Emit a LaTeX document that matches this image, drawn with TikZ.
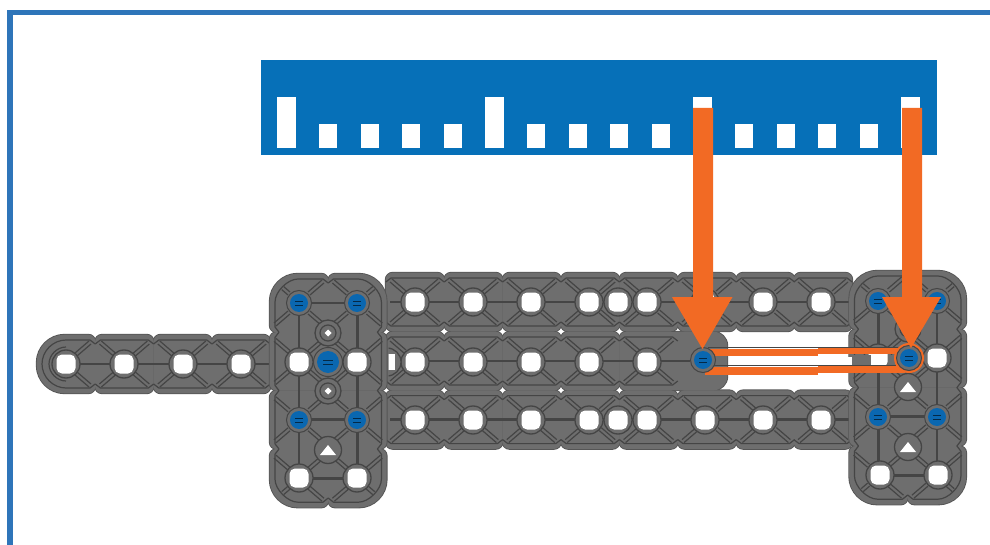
\documentclass[tikz,border=0pt]{standalone}
\definecolor{frameblue}{HTML}{2E75B9}
\definecolor{rulerblue}{HTML}{0670B8}
\definecolor{platefill}{HTML}{6E6E6E}
\definecolor{platedark}{HTML}{454545}
\definecolor{platerim}{HTML}{555555}
\definecolor{screwblue}{HTML}{0A67B0}
\definecolor{linkorange}{HTML}{F26A24}
\tikzset{
  innerline/.style={draw=platedark,line width=1.2pt,line join=round},
  strutline/.style={draw=platedark,line width=2.8pt},
  ringline/.style={draw=platedark,line width=1.3pt,fill=platefill},
  rulerbar/.style={fill=white},
  arrowfill/.style={fill=linkorange},
}
% tile silhouette: radii NW NE SE SW
\newcommand{\tilepath}[4]{
  (-29.3+#1,-29.3) -- (29.3-#2,-29.3) .. controls (29.3-.45*#2,-29.3) and (29.3,-29.3+.45*#2) .. (29.3,-29.3+#2)
  -- (29.3,29.3-#3) .. controls (29.3,29.3-.45*#3) and (29.3-.45*#3,29.3) .. (29.3-#3,29.3)
  -- (-29.3+#4,29.3) .. controls (-29.3+.45*#4,29.3) and (-29.3,29.3-.45*#4) .. (-29.3,29.3-#4)
  -- (-29.3,-29.3+#1) .. controls (-29.3,-29.3+.45*#1) and (-29.3+.45*#1,-29.3) .. (-29.3+#1,-29.3) -- cycle}
\newcommand{\tilerim}[6]{\fill[platerim,draw=platerim,line width=1.8pt,shift={(#1,#2)}] \tilepath{#3}{#4}{#5}{#6};}
\newcommand{\tilefill}[6]{\fill[platefill,shift={(#1,#2)}] \tilepath{#3}{#4}{#5}{#6};}
% diagonals, one factor per quadrant NW NE SE SW
\newcommand{\diag}[6]{
  \begin{scope}[shift={(#1,#2)}]
    \draw[innerline]
      (-9,-11)--(-9-14*#3,-11-12*#3) (-11,-8)--(-11-14*#3,-8-12*#3)
      (9,-11)--(9+14*#4,-11-12*#4) (11,-8)--(11+14*#4,-8-12*#4)
      (9,11)--(9+14*#5,11+12*#5) (11,8)--(11+14*#5,8+12*#5)
      (-9,11)--(-9-14*#6,11+12*#6) (-11,8)--(-11-14*#6,8+12*#6);
  \end{scope}}
\newcommand{\edgetop}[2]{\draw[innerline,shift={(#1,#2)}] (-29.2,-20)--(-24,-24)--(24,-24)--(29.2,-20);}
\newcommand{\edgebot}[2]{\draw[innerline,shift={(#1,#2)}] (-29.2,20)--(-24,24)--(24,24)--(29.2,20);}
\newcommand{\openhole}[2]{
  \draw[ringline] (#1,#2) circle (14);
  \fill[white,rounded corners=5.5pt] (#1-9.5,#2-9.5) rectangle (#1+9.5,#2+9.5);}
\newcommand{\smallhole}[2]{
  \draw[ringline] (#1,#2) circle (13);
  \draw[innerline] (#1,#2) circle (8);
  \fill[white] (#1-3.5,#2) -- (#1,#2-3.5) -- (#1+3.5,#2) -- (#1,#2+3.5) -- cycle;}
\newcommand{\caphole}[2]{
  \draw[ringline] (#1,#2) circle (13.5);
  \fill[white] (#1-8,#2+5) -- (#1,#2-5) -- (#1+8,#2+5) -- cycle;}
\newcommand{\bluescrew}[3]{
  \draw[platedark,line width=1pt,fill=platefill] (#1,#2) circle (#3+3.5);
  \fill[screwblue] (#1,#2) circle (#3);
  \draw[black!60!screwblue,line width=.8pt] (#1-#3*.45,#2-2) -- (#1+#3*.45,#2-2) (#1-#3*.45,#2+2) -- (#1+#3*.45,#2+2);}
% inner outline of a 2 x 4 plate, origin at its top-left hole
\newcommand{\plateinner}[2]{
  \draw[innerline,shift={(#1,#2)}]
   (29.2,-20) -- (24,-24) -- (-1,-24) .. controls (-11.35,-24) and (-24,-11.35) .. (-24,-1)
   -- (-24,24) -- (-20,29.2) -- (-24,34.4) -- (-24,82.4) -- (-20,87.6) -- (-24,92.8) -- (-24,140.8)
   -- (-20,146) -- (-24,151.2) -- (-24,176.2) .. controls (-24,186.5) and (-11.35,199.2) .. (-1,199.2)
   -- (24,199.2) -- (29.2,195) -- (34.4,199.2) -- (59.4,199.2) .. controls (69.8,199.2) and (82.4,186.5) .. (82.4,176.2)
   -- (82.4,151.2) -- (78.4,146) -- (82.4,140.8) -- (82.4,92.8) -- (78.4,87.6) -- (82.4,82.4) -- (82.4,34.4)
   -- (78.4,29.2) -- (82.4,24) -- (82.4,-1) .. controls (82.4,-11.35) and (69.8,-24) .. (59.4,-24)
   -- (34.4,-24) -- cycle;}
\newcommand{\platetiles}[3]{% macro x0 y0
  \begin{scope}[shift={(#2,#3)}]
    #1{0}{0}{28}{7}{7}{7}
    #1{58.4}{0}{7}{28}{7}{7}
    #1{0}{58.4}{7}{7}{7}{7}
    #1{58.4}{58.4}{7}{7}{7}{7}
    #1{0}{116.8}{7}{7}{7}{7}
    #1{58.4}{116.8}{7}{7}{7}{7}
    #1{0}{175.2}{7}{7}{7}{28}
    #1{58.4}{175.2}{7}{7}{28}{7}
  \end{scope}}
\newcommand{\platebody}[2]{% x0 y0: top-left hole
  \platetiles{\tilerim}{#1}{#2}
  \platetiles{\tilefill}{#1}{#2}
  \begin{scope}[shift={(#1,#2)}]
    \diag{0}{0}{.45}{1}{1}{1}
    \diag{58.4}{0}{1}{.45}{1}{1}
    \diag{0}{58.4}{1}{1}{1}{1}
    \diag{58.4}{58.4}{1}{1}{1}{1}
    \diag{0}{116.8}{1}{1}{1}{1}
    \diag{58.4}{116.8}{1}{1}{1}{1}
    \diag{0}{175.2}{1}{1}{1}{.45}
    \diag{58.4}{175.2}{1}{1}{.45}{1}
    \draw[strutline] (0,0)--(0,175.2) (58.4,0)--(58.4,175.2) (0,0)--(58.4,0) (0,58.4)--(58.4,58.4) (0,116.8)--(58.4,116.8) (0,175.2)--(58.4,175.2);
  \end{scope}
  \plateinner{#1}{#2}}
\newcommand{\bodytiles}[1]{
  #1{66}{364}{28}{7}{7}{28}
  \foreach \x in {124.4,182.8,241.2} {#1{\x}{364}{7}{7}{7}{7}}
  \foreach \x in {415,473.4,531.8,590.2,648.6,707,765.4,823} {
    #1{\x}{302}{7}{7}{7}{7}
    #1{\x}{419.6}{7}{7}{7}{7}}
  \foreach \x in {415,473.4,531.8,590.2,648.6} {#1{\x}{361}{7}{7}{7}{7}}
  #1{698}{361}{7}{14}{14}{7}
}
\begin{document}
\begin{tikzpicture}[x=1pt,y=-1pt]
\useasboundingbox (0,0) rectangle (990,545);
\fill[white] (0,0) rectangle (990,545);
% frame
\fill[frameblue] (7,10) rectangle (990,15.5);
\fill[frameblue] (7,10) rectangle (12.5,545);
% ruler
\fill[rulerblue] (261,60) rectangle (937,155);
\foreach \i in {0,5,10,15} {\fill[rulerbar] ({277+41.6*\i},97) rectangle ({296+41.6*\i},148);}
\foreach \i in {1,2,3,4,6,7,8,9,11,12,13,14} {\fill[rulerbar] ({277.5+41.6*\i},124) rectangle ({295.5+41.6*\i},148);}
% beam and body
\bodytiles{\tilerim}
\bodytiles{\tilefill}
\diag{66}{364}{0}{1}{1}{0}
\foreach \x in {124.4,182.8,241.2} {\diag{\x}{364}{1}{1}{1}{1}\edgetop{\x}{364}\edgebot{\x}{364}}
\draw[innerline] (95.2,344)--(90,340)--(66,340) .. controls (53,340) and (42,351) .. (42,364) .. controls (42,377) and (53,388) .. (66,388) -- (90,388)--(95.2,384);
\draw[innerline] (66,347) .. controls (57,347) and (49,355) .. (49,364) .. controls (49,373) and (57,381) .. (66,381);
\draw[strutline] (66,364)--(270,364);
\foreach \x in {415,473.4,531.8,590.2,648.6,707,765.4,823} {
  \diag{\x}{302}{1}{1}{1}{1}\diag{\x}{419.6}{1}{1}{1}{1}
  \edgetop{\x}{302}\edgebot{\x}{302}
  \edgetop{\x}{419.6}\edgebot{\x}{419.6}}
\foreach \x in {415,473.4,531.8,590.2,648.6} {\diag{\x}{361}{1}{1}{1}{1}}
\draw[strutline] (390,302)--(852,302) (390,419.6)--(852,419.6) (390,361)--(690,361);
\foreach \x in {415,473.4,531.8,590.2,648.6} {\edgetop{\x}{361}\edgebot{\x}{361}}
% plates
\platebody{299}{303}
\platebody{878.5}{300}
% body holes
\foreach \x in {415,473,531,589,618,647,705,763,821} {\openhole{\x}{302}\openhole{\x}{420}}
\foreach \x in {415,473,531,589,647} {\openhole{\x}{362}}
% half hole hidden by left plate
\begin{scope}
  \clip (388.5,340) rectangle (410,385);
  \draw[ringline] (387,362) circle (14);
  \fill[white] (380,354) rectangle (395,370);
\end{scope}
% left beam holes
\foreach \x in {66,124,183,241} {\openhole{\x}{364}}
% left plate
\openhole{299}{362}\openhole{357}{362}
\openhole{299}{478}\openhole{357}{478}
\smallhole{328}{333}\smallhole{328}{391}
\caphole{328}{450}
\bluescrew{299}{303}{9}\bluescrew{357}{303}{9}
\bluescrew{299}{420}{9}\bluescrew{357}{420}{9}
\bluescrew{328}{362}{11}
% right plate
\openhole{937}{358}\openhole{878}{358}
\openhole{880}{475}\openhole{938}{475}
\caphole{908}{387}\caphole{908}{447}
\smallhole{908}{329}
\bluescrew{878}{301}{9}\bluescrew{937}{301}{9}
\bluescrew{878}{417}{9}\bluescrew{937}{417}{9}
% link
\fill[linkorange] (708,349) rectangle (818,356);
\fill[linkorange] (818,347) rectangle (905,354);
\fill[linkorange] (705,367) rectangle (818,375);
\fill[linkorange] (818,366) rectangle (905,373);
\draw[platedark,line width=1.1pt] (708,347.5)--(905,347.5) (708,365.5)--(905,365.5);
\fill[white] (733,357) rectangle (852,364.5);
\fill[platefill] (852,355) rectangle (871,364.5);
\fill[platefill] (889,355) rectangle (900,364.5);
\fill[linkorange] (909,358) circle (15);
\bluescrew{703}{360}{9}
\bluescrew{909}{358}{9}
% arrows
\fill[arrowfill] (693,108) -- (713,108) -- (713,297) -- (732.5,297) -- (702.5,349) -- (672,297) -- (693,297) -- cycle;
\fill[arrowfill] (902,108) -- (922,108) -- (922,297) -- (941,297) -- (911,348) -- (882,297) -- (902,297) -- cycle;
\end{tikzpicture}
\end{document}
